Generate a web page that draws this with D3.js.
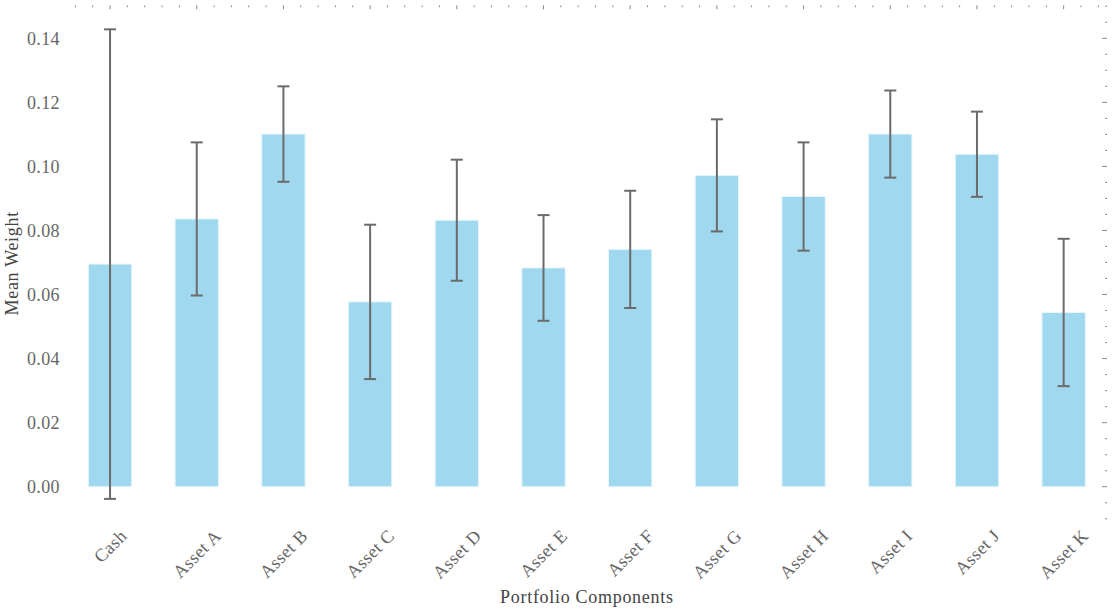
<!DOCTYPE html>
<html lang="en">
<head>
<meta charset="UTF-8">
<title>Mean Weight by Portfolio Component</title>
<style>
    body { margin: 0; background: #fff; }
    svg text { font-family: "Liberation Serif", "DejaVu Serif", serif; }
    .bar { fill: #87ceeb; fill-opacity: 0.8; stroke: #e6f6fc; stroke-width: 1; }
    .err { stroke: #6b6b6b; stroke-width: 2; fill: none; }
    .tick-mark { stroke: #8a8a8a; stroke-width: 1; }
    .tick-label { fill: #666; font-size: 18px; letter-spacing: 0.4px; }
    .axis-label { fill: #444; font-size: 18px; letter-spacing: 0.7px; }
</style>
</head>
<body>
<svg id="chart" width="1113" height="613"></svg>
<script src="https://d3js.org/d3.v7.min.js"></script>
<script>
// data
const categories = ["Cash", "Asset A", "Asset B", "Asset C", "Asset D", "Asset E",
                    "Asset F", "Asset G", "Asset H", "Asset I", "Asset J", "Asset K"];
const meanWeights = [0.0695, 0.0836, 0.1101, 0.0577, 0.0832, 0.0683,
                     0.0741, 0.0972, 0.0906, 0.1101, 0.1038, 0.0544];
const errors = [0.0733, 0.0239, 0.0149, 0.0241, 0.0189, 0.0165,
                0.0183, 0.0175, 0.0169, 0.0136, 0.0133, 0.0230];
const yTicks = [0, 0.02, 0.04, 0.06, 0.08, 0.10, 0.12, 0.14];

const svg = d3.select("#chart");
const plotLeft = 66.7, plotRight = 1107, plotTop = 5.3, plotBottom = 521.3;

// same idea as matplotlib: bar slots at integers, xlim [-0.5, n-0.5]
const x = d3.scaleLinear().domain([-0.5, categories.length - 0.5]).range([plotLeft, plotRight]);
const y = d3.scaleLinear().domain([-0.0108, 0.1503]).range([plotBottom, plotTop]);
const barW = x(0.25) - x(-0.25);

// bars
svg.selectAll(".bar").data(meanWeights).join("rect")
    .attr("class", "bar")
    .attr("x", (d, i) => x(i) - barW / 2)
    .attr("y", d => y(d))
    .attr("width", barW)
    .attr("height", d => y(0) - y(d));

// error bars
const errG = svg.append("g");
meanWeights.forEach((m, i) => {
    const cx = x(i), lo = y(m - errors[i]), hi = y(m + errors[i]);
    errG.append("line").attr("class", "err")
        .attr("x1", cx).attr("x2", cx).attr("y1", lo).attr("y2", hi);
    [lo, hi].forEach(yy => errG.append("line").attr("class", "err")
        .attr("x1", cx - 6).attr("x2", cx + 6).attr("y1", yy).attr("y2", yy));
});

// y tick labels (left, no marks)
svg.append("g").selectAll("text").data(yTicks).join("text")
    .attr("class", "tick-label")
    .attr("x", 60)
    .attr("y", d => y(d))
    .attr("dy", "0.35em")
    .attr("text-anchor", "end")
    .text(d => d3.format(".2f")(d));

// top tick marks: major at each category, minor every 0.2
const topTicks = d3.range(-2, categories.length * 5 - 2).map(k => k / 5)
    .filter(v => v > -0.5 && v < categories.length - 0.5);
svg.append("g").selectAll("line").data(topTicks).join("line")
    .attr("class", "tick-mark")
    .attr("x1", d => x(d)).attr("x2", d => x(d))
    .attr("y1", plotTop)
    .attr("y2", d => plotTop + (Math.abs(d - Math.round(d)) < 1e-6 ? 4 : 2));

// right tick marks: major every 0.02, minor every 0.005
const rightTicks = d3.range(-2, 31).map(k => k * 0.005)
    .filter(v => v >= y.domain()[0] && v <= y.domain()[1]);
svg.append("g").selectAll("line").data(rightTicks).join("line")
    .attr("class", "tick-mark")
    .attr("y1", d => y(d)).attr("y2", d => y(d))
    .attr("x2", plotRight)
    .attr("x1", d => plotRight - (Math.abs(d / 0.02 - Math.round(d / 0.02)) < 1e-6 ? 5 : 2));

// x tick labels rotated 45, centred on the tick like ha='center'
const xl = svg.append("g").selectAll("text").data(categories).join("text")
    .attr("class", "tick-label")
    .attr("text-anchor", "middle")
    .attr("dy", "0.35em")
    .text(d => d);
xl.each(function(d, i) {
    const w = this.getComputedTextLength();
    const h = 13;
    const cy = 528 + (w + h) * Math.SQRT1_2 / 2;
    d3.select(this).attr("transform", `translate(${x(i)},${cy}) rotate(-45)`);
});

// axis titles
svg.append("text").attr("class", "axis-label")
    .attr("x", x((categories.length - 1) / 2)).attr("y", 603)
    .attr("text-anchor", "middle")
    .text("Portfolio Components");

svg.append("text").attr("class", "axis-label")
    .attr("transform", `translate(18,${(plotTop + plotBottom) / 2}) rotate(-90)`)
    .attr("text-anchor", "middle")
    .text("Mean Weight");
</script>
</body>
</html>
